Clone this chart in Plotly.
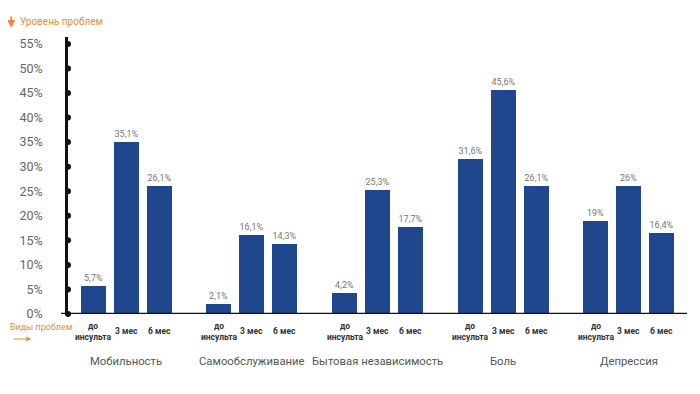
import plotly.graph_objects as go

# ---- data ----
groups = ["Мобильность", "Самообслуживание", "Бытовая независимость", "Боль", "Депрессия"]
periods = ["до<br>инсульта", "3 мес", "6 мес"]
before = [5.7, 2.1, 4.2, 31.6, 19.0]
m3 = [35.1, 16.1, 25.3, 45.6, 26.0]
m6 = [26.1, 14.3, 17.7, 26.1, 16.4]
y_ticks = [0, 5, 10, 15, 20, 25, 30, 35, 40, 45, 50, 55]

# ---- layout constants (page pixels; the page body adds an 8px offset) ----
OFF = 8
W, H = 700 - OFF, 394 - OFF
ML, MR, MT, MB = 66 - OFF, 13, 37 - OFF, 80
GROUP_STEP = 3.82
XR = [-0.77, 18.05]
YR = [0, 56.4]
BAR_COLOR = "#1E478D"
ORANGE = "#F08A3C"
FONT = "Roboto"

pw, ph = W - ML - MR, H - MT - MB
def px_x(p):
    return (p - OFF - ML) / pw
def px_y(p):
    return (H - MB - (p - OFF)) / ph

def fmt(v):
    s = f"{v:.1f}".rstrip("0").rstrip(".")
    return s.replace(".", ",") + "%"

fig = go.Figure()
series = [before, m3, m6]
for j, vals in enumerate(series):
    xs = [g * GROUP_STEP + j for g in range(len(groups))]
    fig.add_trace(go.Bar(
        x=xs, y=vals, width=0.76, marker=dict(color=BAR_COLOR, line=dict(width=0)),
        text=[fmt(v) for v in vals], textposition="outside",
        textfont=dict(size=9, color="#777777", family=FONT),
        cliponaxis=False, showlegend=False, hoverinfo="skip",
    ))

# dots on the y axis
fig.add_trace(go.Scatter(
    x=[XR[0]] * len(y_ticks), y=y_ticks, mode="markers",
    marker=dict(color="#111111", size=6), cliponaxis=False,
    showlegend=False, hoverinfo="skip",
))

annotations = []
for g in range(len(groups)):
    for j, p in enumerate(periods):
        annotations.append(dict(
            x=g * GROUP_STEP + j, xref="x", y=px_y(331), yref="paper",
            text="<b>" + p + "</b>", showarrow=False, xanchor="center", yanchor="middle",
            font=dict(size=8.5, color="#333333", family=FONT),
        ))
    annotations.append(dict(
        x=g * GROUP_STEP + 1, xref="x", y=px_y(361), yref="paper",
        text=groups[g], showarrow=False, xanchor="center", yanchor="middle",
        font=dict(size=11.3, color="#555555", family=FONT),
    ))

annotations.append(dict(
    x=px_x(16), xref="paper", y=px_y(22), yref="paper", text="Уровень проблем",
    showarrow=False, xanchor="left", yanchor="middle",
    font=dict(size=10, color=ORANGE, family=FONT),
))
annotations.append(dict(
    x=px_x(9), xref="paper", y=px_y(28), yref="paper",
    ax=0, ay=-13, axref="pixel", ayref="pixel", text="",
    showarrow=True, arrowhead=2, arrowsize=0.9, arrowwidth=1.8, arrowcolor=ORANGE,
))
annotations.append(dict(
    x=px_x(6), xref="paper", y=px_y(327), yref="paper", text="Виды проблем",
    showarrow=False, xanchor="left", yanchor="middle",
    font=dict(size=9, color=ORANGE, family=FONT),
))
annotations.append(dict(
    x=px_x(29), xref="paper", y=px_y(339), yref="paper",
    ax=-19, ay=0, axref="pixel", ayref="pixel", text="",
    showarrow=True, arrowhead=2, arrowsize=0.8, arrowwidth=1.2, arrowcolor=ORANGE,
))

shapes = [
    dict(type="line", xref="paper", yref="y", x0=px_x(59), x1=1, y0=0, y1=0,
         line=dict(color="#111111", width=2.5)),
]

fig.update_layout(
    width=W, height=H, margin=dict(l=ML, r=MR, t=MT, b=MB),
    paper_bgcolor="white", plot_bgcolor="white",
    font=dict(family=FONT),
    bargap=0, annotations=annotations, shapes=shapes,
    xaxis=dict(range=XR, showgrid=False, zeroline=False, showline=False,
               showticklabels=False, ticks=""),
    yaxis=dict(range=YR, tickvals=y_ticks, ticktext=[f"{t}%" for t in y_ticks],
               showgrid=False, zeroline=False, showline=True, linecolor="#111111",
               linewidth=2.5, ticks="", ticklabelstandoff=20,
               tickfont=dict(size=12.5, color="#666666", family=FONT)),
)

fig.write_html("out.html")
